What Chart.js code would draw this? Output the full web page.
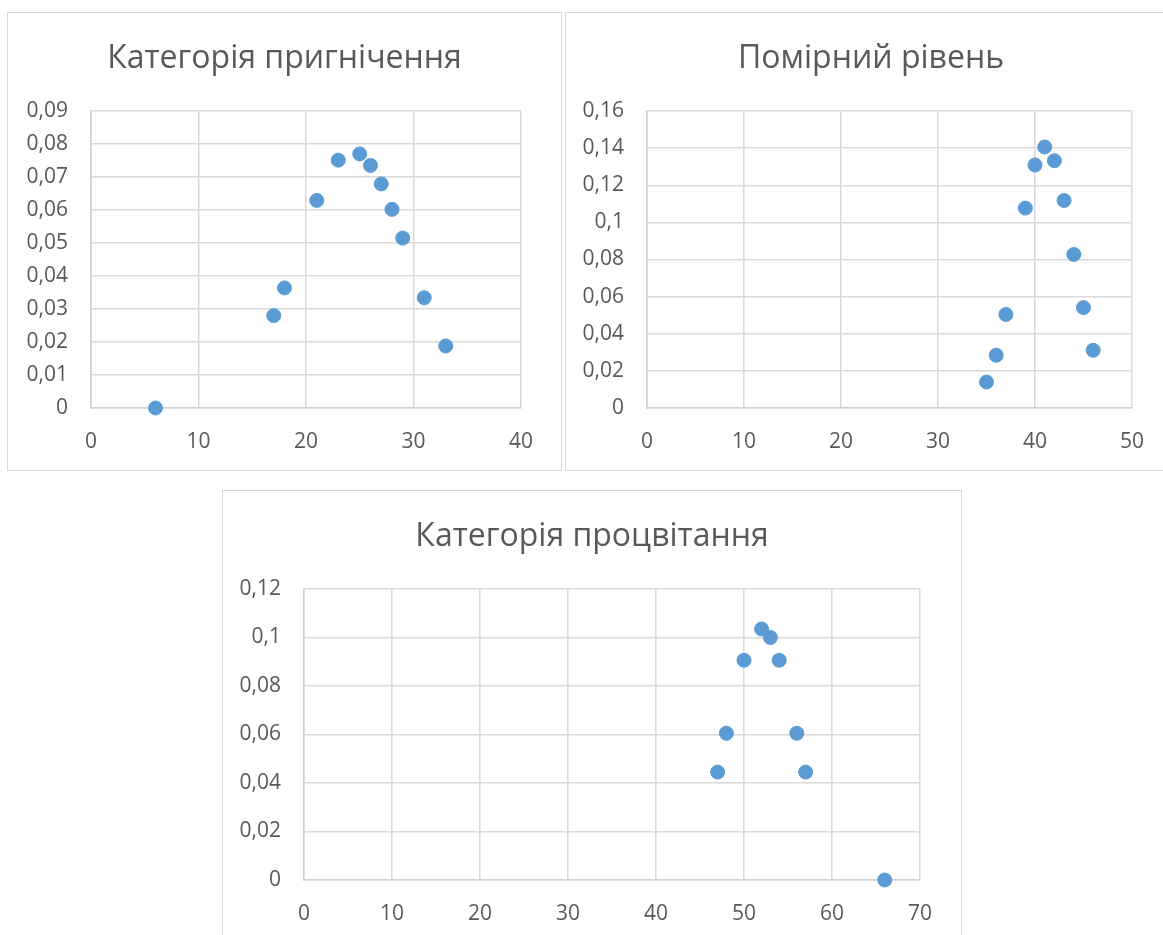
<!DOCTYPE html>
<html lang="uk">
<head>
<meta charset="utf-8">
<title>Категорії</title>
<script src="https://cdn.jsdelivr.net/npm/chart.js@4/dist/chart.umd.min.js"></script>
<style>
  html, body { margin: 0; padding: 0; background: #ffffff; }
  body { position: relative; width: 1163px; height: 935px; overflow: hidden; }
  .panel { position: absolute; box-sizing: border-box; border: 1px solid #d9d9d9; background: #ffffff; }
  .panel canvas { display: block; }
</style>
</head>
<body>
<div class="panel" style="left:7px;top:12px;width:555px;height:459px;"><canvas id="c1" width="553" height="457"></canvas></div>
<div class="panel" style="left:565px;top:12px;width:612px;height:459px;"><canvas id="c2" width="610" height="457"></canvas></div>
<div class="panel" style="left:222px;top:490px;width:740px;height:460px;"><canvas id="c3" width="738" height="451"></canvas></div>
<script>
// Категорія пригнічення
const xPryhnichennia = [6, 17, 18, 21, 23, 25, 26, 27, 28, 29, 31, 33];
const yPryhnichennia = [0, 0.028, 0.0364, 0.0629, 0.0751, 0.077, 0.0735, 0.0679, 0.0602, 0.0515, 0.0334, 0.0188];

// Помірний рівень
const xPomirnyi = [35, 36, 37, 39, 40, 41, 42, 43, 44, 45, 46];
const yPomirnyi = [0.014, 0.0284, 0.0504, 0.1077, 0.1309, 0.1406, 0.1332, 0.1118, 0.0827, 0.0541, 0.0311];

// Категорія процвітання
const xProtsvitannia = [47, 48, 50, 52, 53, 54, 56, 57, 66];
const yProtsvitannia = [0.0445, 0.0605, 0.0906, 0.1035, 0.1, 0.0906, 0.0605, 0.0445, 0];

const chartTitles = ['Категорія пригнічення', 'Помірний рівень', 'Категорія процвітання'];
const xAxisMax = [40, 50, 70];
const yAxisMax = [0.09, 0.16, 0.12];
const yAxisStep = [0.01, 0.02, 0.02];

const FONT = "'Open Sans', 'Noto Sans', sans-serif";
const TEXT = '#595959';
const GRID = '#d9d9d9';
const MARKER = '#5b9bd5';

// decimal comma, trailing zeros dropped: 0,1 / 0,02 / 0
function commaLabel(v) {
  const r = Math.round(v * 1000) / 1000;
  return String(r).replace('.', ',');
}

// heading centred on the whole panel (not on the plot area)
const panelTitle = {
  id: 'panelTitle',
  afterDraw(chart, args, opts) {
    const ctx = chart.ctx;
    ctx.save();
    ctx.font = '32px ' + FONT;
    ctx.fillStyle = TEXT;
    ctx.textAlign = 'center';
    ctx.textBaseline = 'middle';
    ctx.fillText(opts.text, chart.width / 2, 46);
    ctx.restore();
  }
};

function scatterPanel(canvasId, xs, ys, idx, plotLeft, padRight) {
  const points = xs.map((x, i) => ({ x: x, y: ys[i] }));
  return new Chart(document.getElementById(canvasId), {
    type: 'scatter',
    plugins: [panelTitle],
    data: {
      datasets: [{
        data: points,
        backgroundColor: MARKER,
        borderColor: MARKER,
        borderWidth: 1,
        pointRadius: 7,
        pointHoverRadius: 7,
        clip: false
      }]
    },
    options: {
      responsive: false,
      animation: false,
      events: [],
      layout: { padding: { left: 0, right: padRight, top: 98, bottom: 0 } },
      plugins: {
        legend: { display: false },
        tooltip: { enabled: false },
        title: { display: false },
        panelTitle: { text: chartTitles[idx] }
      },
      scales: {
        x: {
          type: 'linear',
          min: 0,
          max: xAxisMax[idx],
          ticks: {
            stepSize: 10,
            color: TEXT,
            font: { family: FONT, size: 21 },
            padding: 21,
            maxRotation: 0
          },
          grid: { color: GRID, lineWidth: 1.5, drawTicks: false },
          border: { color: '#d0d0d0', width: 1.5 },
          afterFit: (s) => { s.height = 62; }
        },
        y: {
          type: 'linear',
          min: 0,
          max: yAxisMax[idx],
          ticks: {
            stepSize: yAxisStep[idx],
            color: TEXT,
            font: { family: FONT, size: 21 },
            padding: 23,
            callback: (v) => commaLabel(v)
          },
          grid: { color: GRID, lineWidth: 1.5, drawTicks: false },
          border: { color: '#d0d0d0', width: 1.5 },
          afterFit: (s) => { s.width = plotLeft; }
        }
      }
    }
  });
}

scatterPanel('c1', xPryhnichennia, yPryhnichennia, 0, 83, 40);
scatterPanel('c2', xPomirnyi, yPomirnyi, 1, 81, 44);
scatterPanel('c3', xProtsvitannia, yProtsvitannia, 2, 81, 41);
</script>
</body>
</html>
